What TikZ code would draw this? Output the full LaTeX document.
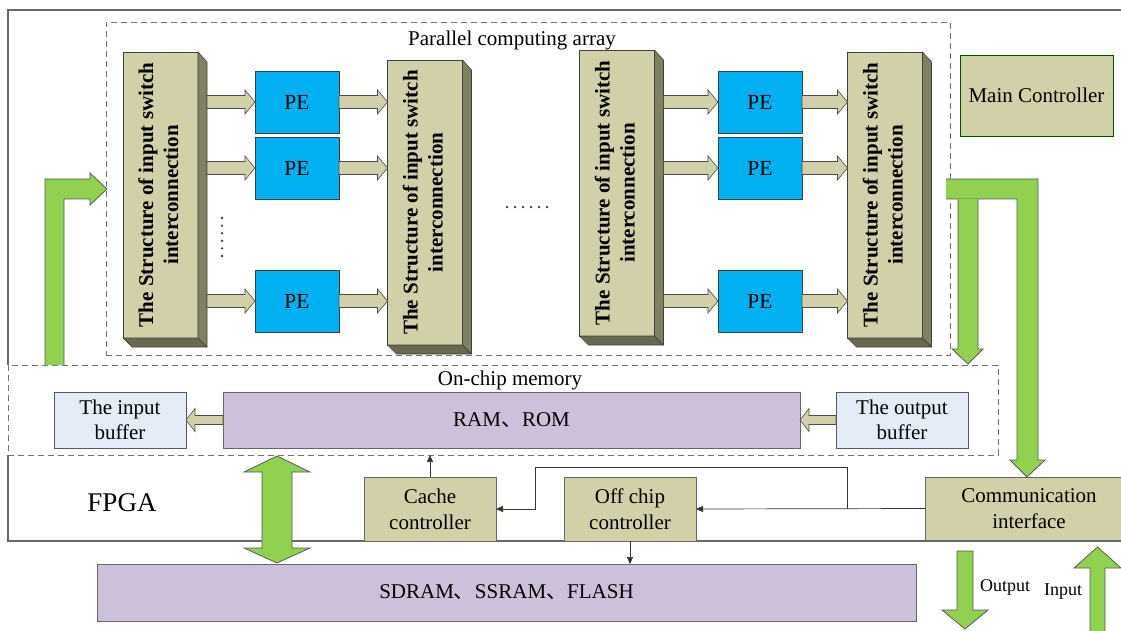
\documentclass[tikz,border=0pt]{standalone}
\usepackage{fontspec}
\usepackage{graphicx}
\setmainfont{Liberation Serif}
\newfontfamily\cjk{Noto Sans CJK SC}
\usetikzlibrary{calc,arrows.meta}

\definecolor{khaki}{RGB}{210,208,168}
\definecolor{khakiside}{RGB}{128,128,98}
\definecolor{khakibottom}{RGB}{105,105,80}
\definecolor{peblue}{RGB}{0,176,240}
\definecolor{lgreen}{RGB}{146,208,80}
\definecolor{lavender}{RGB}{204,192,218}
\definecolor{bufblue}{RGB}{228,236,247}
\definecolor{framegray}{RGB}{115,115,115}

% horizontal block arrow: style, body half-height, head half-height, head length, start, end
\newcommand\blockarrow[6]{%
  \draw[#1] let \p1=#5, \p2=#6, \n1={(\x2>\x1)?1:-1} in
    (\x1,\y2+#2) -- (\x2-\n1*#4,\y2+#2) -- (\x2-\n1*#4,\y2+#3) -- (\x2,\y2)
    -- (\x2-\n1*#4,\y2-#3) -- (\x2-\n1*#4,\y2-#2) -- (\x1,\y2-#2) -- cycle;}

% side and bottom faces of a switch bar
\newcommand\barfaces[1]{%
  \filldraw[barface, fill=khakiside] (#1.north east) -- ++(9,10)
    -- ($(#1.south east)+(9,9)$) -- (#1.south east) -- cycle;
  \filldraw[barface, fill=khakibottom] (#1.south west) -- ++(9,9)
    -- ($(#1.south east)+(9,9)$) -- (#1.south east) -- cycle;}

\newcommand\switchtext{\rotatebox{90}{\begin{tabular}{@{}c@{}}The Structure of input switch\\interconnection\end{tabular}}}

\tikzset{
  barface/.style={draw=black!75, line width=0.6pt, line join=round},
  switchbar/.style={draw=black!75, line width=0.6pt, fill=khaki, inner sep=0pt, outer sep=0pt,
    minimum width=75pt, font=\bfseries\fontsize{21}{25}\selectfont},
  pe/.style={draw=black!75, line width=0.6pt, fill=peblue, minimum width=84pt, minimum height=62pt,
    inner sep=0pt, outer sep=0pt, font=\fontsize{21.5}{24}\selectfont},
  ctrl/.style={draw=black!60, line width=0.8pt, fill=khaki, inner sep=0pt, outer sep=0pt,
    align=center, font=\fontsize{21}{26}\selectfont},
  mem/.style={draw=black!60, line width=0.8pt, fill=lavender, inner sep=0pt, outer sep=0pt,
    font=\fontsize{21}{25}\selectfont},
  buf/.style={draw=black!65, line width=0.8pt, fill=bufblue, inner sep=0pt, outer sep=0pt,
    minimum width=132pt, minimum height=56pt, align=center, font=\fontsize{21}{25}\selectfont},
  frame/.style={draw=framegray, line width=0.9pt, dash pattern=on 6pt off 4pt, inner sep=0pt, outer sep=0pt},
  beige/.style={fill=khaki, draw=black!70, line width=0.6pt, line join=miter},
  garrow/.style={fill=lgreen, draw=black!65, line width=0.8pt, line join=miter},
  wire/.style={draw=black!80, line width=0.7pt, -{Triangle[length=7pt,width=6pt]}},
  lbl/.style={inner sep=0pt, font=\fontsize{21}{25}\selectfont},
}

\begin{document}
\begin{tikzpicture}[x=1pt, y=-1pt]
\path[use as bounding box] (0,0) rectangle (1121,631);
\clip (0,0) rectangle (1121,631);
\fill[white] (0,0) rectangle (1121,631);

% FPGA outline (upper and lower solid parts)
\draw[framegray!90!black, line width=1.2pt] (1130,10) -- (8,10) -- (8,365);
\draw[framegray!90!black, line width=1.2pt] (8,455) -- (8,541) -- (1130,541);

% dashed regions
\node[frame, minimum width=844pt, minimum height=333pt] (array) at (528,188.5) {};
\node[frame, minimum width=990pt, minimum height=90pt] (onchip) at (503,410) {};
\node[lbl] (arraylbl) at (512,40) {Parallel computing array};
\node[lbl] (memlbl) at (510,380) {On-chip memory};

% switch bars
\node[switchbar, minimum height=286pt] (s1) at (160.5,195) {\switchtext};
\node[switchbar, minimum height=285pt] (s2) at (425,202.5) {\switchtext};
\node[switchbar, minimum height=286pt] (s3) at (617,193) {\switchtext};
\node[switchbar, minimum height=286pt] (s4) at (885,195) {\switchtext};
\barfaces{s1}\barfaces{s2}\barfaces{s3}\barfaces{s4}

% processing elements
\node[pe] (p11) at (297,102) {PE};
\node[pe] (p12) at (297,168) {PE};
\node[pe] (p13) at (297,301) {PE};
\node[pe] (p21) at (760,102) {PE};
\node[pe] (p22) at (760,168) {PE};
\node[pe] (p23) at (760,301) {PE};

% data paths through the array
\foreach \q in {p11,p12,p13}{
  \blockarrow{beige}{6.5pt}{12pt}{10pt}{($(s1.east |- \q)+(9,0)$)}{(\q.west)}
  \blockarrow{beige}{6.5pt}{12pt}{10pt}{(\q.east)}{(s2.west |- \q)}
}
\foreach \q in {p21,p22,p23}{
  \blockarrow{beige}{6.5pt}{12pt}{10pt}{($(s3.east |- \q)+(9,0)$)}{(\q.west)}
  \blockarrow{beige}{6.5pt}{12pt}{10pt}{(\q.east)}{(s4.west |- \q)}
}

% ellipses
\foreach \i in {0,...,5}{
  \fill[black!75] (222,218+7.6*\i) circle (1.3pt);
  \fill[black!75] (507+8*\i,207) circle (1.3pt);
}

% main controller
\node[ctrl, draw=black!70!green, minimum width=153pt, minimum height=81pt] (mainctrl) at (1036.5,95.5) {Main Controller};

% on-chip memory
\node[mem, minimum width=577pt, minimum height=56pt] (ram) at (511.5,420) {RAM{\cjk 、}ROM};
\node[buf] (inbuf) at (120,420) {The input\\buffer};
\node[buf] (outbuf) at (902,420) {The output\\buffer};
\blockarrow{beige}{4.5pt}{11.5pt}{9pt}{(ram.west)}{(inbuf.east)}
\blockarrow{beige}{4.5pt}{11.5pt}{9pt}{(outbuf.west)}{(ram.east)}

% FPGA label and controllers
\node[inner sep=0pt, font=\fontsize{27}{30}\selectfont] (fpga) at (122,503) {FPGA};
\node[ctrl, minimum width=132pt, minimum height=64pt] (cache) at (430,509) {Cache\\controller};
\node[ctrl, minimum width=132pt, minimum height=64pt] (offchip) at (630,509) {Off chip\\controller};
\node[ctrl, minimum width=208pt, minimum height=63pt] (comm) at (1029,508.5) {Communication\\interface};

% off-chip memory
\node[mem, minimum width=819pt, minimum height=57pt] (sdram) at (506.5,592.5) {SDRAM{\cjk 、}SSRAM{\cjk 、}FLASH};

% control wires
\coordinate (branch) at (847,508.5);
\coordinate (bend) at (535,467);
\draw[wire] (comm.west) -- (offchip.east);
\draw[wire] (branch) |- (bend) |- (cache.east);
\draw[wire] (cache.north) -- (cache.north |- onchip.south);
\draw[wire] (offchip.south) -- (offchip.south |- sdram.north);

% green data arrows
\filldraw[garrow] (45,365) -- (45,179) -- (90,179) -- (90,173) -- (107,189)
  -- (90,205) -- (90,199) -- (64,199) -- (64,365);
\filldraw[garrow] (946,179) -- (1038,179) -- (1038,460) -- (1045,460) -- (1027,477)
  -- (1010,460) -- (1017,460) -- (1017,199) -- (946,199);
\filldraw[garrow] (958,199) -- (958,349) -- (952,349) -- (968,364) -- (983,349)
  -- (978,349) -- (978,199);
\filldraw[garrow] (277,456) -- (310,472) -- (292,472) -- (292,548) -- (310,548)
  -- (277,563) -- (244,548) -- (262,548) -- (262,472) -- (244,472) -- cycle;
\filldraw[garrow] (957,551) -- (973,551) -- (973,610) -- (988,610) -- (965,629)
  -- (942,610) -- (957,610) -- cycle;
\filldraw[garrow] (1090,640) -- (1090,568) -- (1074,568) -- (1097.5,547) -- (1121,568)
  -- (1105,568) -- (1105,640);

\node[inner sep=0pt, font=\fontsize{18}{20}\selectfont] (outlbl) at (1005,587) {Output};
\node[inner sep=0pt, font=\fontsize{18}{20}\selectfont] (inlbl) at (1063,592) {Input};
\end{tikzpicture}
\end{document}
